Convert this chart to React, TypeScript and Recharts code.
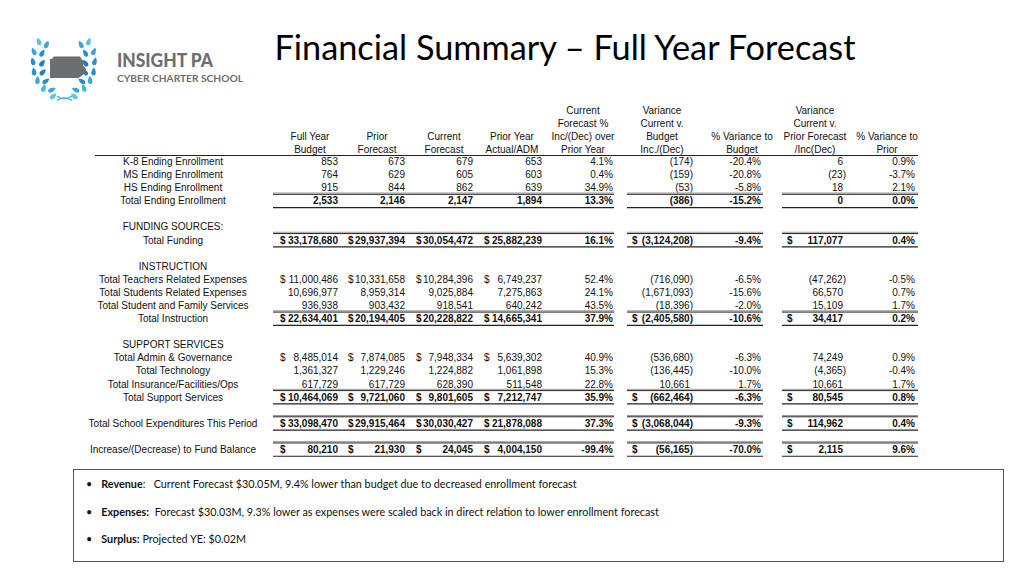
import { Bar, ComposedChart, XAxis, YAxis } from "recharts";

const rowLabels = [
  "K-8 Ending Enrollment",
  "MS Ending Enrollment",
  "HS Ending Enrollment",
  "Total Ending Enrollment",
  "",
  "FUNDING SOURCES:",
  "Total Funding",
  "",
  "INSTRUCTION",
  "Total Teachers Related Expenses",
  "Total Students Related Expenses",
  "Total Student and Family Services",
  "Total Instruction",
  "",
  "SUPPORT SERVICES",
  "Total Admin & Governance",
  "Total Technology",
  "Total Insurance/Facilities/Ops",
  "Total Support Services",
  "",
  "Total School Expenditures This Period",
  "",
  "Increase/(Decrease) to Fund Balance",
];

// n = line item, t = total, h = section heading, b = spacer
const rowKinds = ["n", "n", "n", "t", "b", "h", "t", "b", "h", "n", "n", "n", "t", "b", "h", "n", "n", "n", "t", "b", "t", "b", "t"];
// rows whose dollar columns carry a "$"
const dollarRows = [6, 9, 12, 15, 18, 20, 22];
const dollarVarRows = [6, 12, 18, 20, 22];

const fullYearBudget = [853, 764, 915, 2533, null, null, 33178680, null, null, 11000486, 10696977, 936938, 22634401, null, null, 8485014, 1361327, 617729, 10464069, null, 33098470, null, 80210];
const priorForecast = [673, 629, 844, 2146, null, null, 29937394, null, null, 10331658, 8959314, 903432, 20194405, null, null, 7874085, 1229246, 617729, 9721060, null, 29915464, null, 21930];
const currentForecast = [679, 605, 862, 2147, null, null, 30054472, null, null, 10284396, 9025884, 918541, 20228822, null, null, 7948334, 1224882, 628390, 9801605, null, 30030427, null, 24045];
const priorYearActual = [653, 603, 639, 1894, null, null, 25882239, null, null, 6749237, 7275863, 640242, 14665341, null, null, 5639302, 1061898, 511548, 7212747, null, 21878088, null, 4004150];
const pctOverPriorYear = [4.1, 0.4, 34.9, 13.3, null, null, 16.1, null, null, 52.4, 24.1, 43.5, 37.9, null, null, 40.9, 15.3, 22.8, 35.9, null, 37.3, null, -99.4];
const varVsBudget = [-174, -159, -53, -386, null, null, -3124208, null, null, -716090, -1671093, -18396, -2405580, null, null, -536680, -136445, 10661, -662464, null, -3068044, null, -56165];
const pctVarBudget = [-20.4, -20.8, -5.8, -15.2, null, null, -9.4, null, null, -6.5, -15.6, -2.0, -10.6, null, null, -6.3, -10.0, 1.7, -6.3, null, -9.3, null, -70.0];
const varVsPrior = [6, -23, 18, 0, null, null, 117077, null, null, -47262, 66570, 15109, 34417, null, null, 74249, -4365, 10661, 80545, null, 114962, null, 2115];
const pctVarPrior = [0.9, -3.7, 2.1, 0.0, null, null, 0.4, null, null, -0.5, 0.7, 1.7, 0.2, null, null, 0.9, -0.4, 1.7, 0.8, null, 0.4, null, 9.6];

const columnHeaders = [
  ["", "", "Full Year", "Budget"],
  ["", "", "Prior", "Forecast"],
  ["", "", "Current", "Forecast"],
  ["", "", "Prior Year", "Actual/ADM"],
  ["Current", "Forecast %", "Inc/(Dec) over", "Prior Year"],
  ["Variance", "Current v.", "Budget", "Inc./(Dec)"],
  ["", "", "% Variance to", "Budget"],
  ["Variance", "Current v.", "Prior Forecast", "/Inc(Dec)"],
  ["", "", "% Variance to", "Prior"],
];

const notes = [
  ["Revenue", ":   Current Forecast $30.05M, 9.4% lower than budget due to decreased enrollment forecast"],
  ["Expenses:", "  Forecast $30.03M, 9.3% lower as expenses were scaled back in direct relation to lower enrollment forecast"],
  ["Surplus:", " Projected YE: $0.02M"],
];

const FONT = '"Liberation Sans", Arial, sans-serif';
const INK = "#111";
const LABEL_X = 173;
const headerCenters = [310, 377, 444, 512, 583, 662, 742, 815, 887];
const headerRows = [110, 123, 136, 149];
const segments = [
  [273, 614],
  [627, 763],
  [782, 918],
];

type Col = { values: (number | null)[]; right: number; kind: "amt" | "pct" | "var"; dollarX?: number };
const columns: Col[] = [
  { values: fullYearBudget, right: 338, kind: "amt", dollarX: 280 },
  { values: priorForecast, right: 405, kind: "amt", dollarX: 348 },
  { values: currentForecast, right: 473, kind: "amt", dollarX: 416 },
  { values: priorYearActual, right: 542, kind: "amt", dollarX: 484 },
  { values: pctOverPriorYear, right: 613, kind: "pct" },
  { values: varVsBudget, right: 693, kind: "var", dollarX: 632 },
  { values: pctVarBudget, right: 761, kind: "pct" },
  { values: varVsPrior, right: 846, kind: "var", dollarX: 787 },
  { values: pctVarPrior, right: 915, kind: "pct" },
];

const rows = rowLabels.map((label, i) => ({ key: `r${i}`, label }));

function RowTick(props: any) {
  const { y, payload } = props;
  const i = Number(String(payload.value).slice(1));
  const kind = rowKinds[i];
  if (kind === "b") return <g />;
  const bold = kind === "t";
  const cells: any[] = [];
  columns.forEach((c, ci) => {
    const v = c.values[i];
    if (v === null || v === undefined) return;
    let text = "";
    let right = c.right;
    let dollar = false;
    if (c.kind === "amt") {
      text = v.toLocaleString("en-US");
      dollar = dollarRows.includes(i);
    } else if (c.kind === "pct") {
      text = `${v.toFixed(1)}%`;
    } else {
      text = v < 0 ? `(${Math.abs(v).toLocaleString("en-US")})` : v.toLocaleString("en-US");
      if (v >= 0) right -= 3;
      dollar = dollarVarRows.includes(i);
    }
    cells.push(
      <text key={`c${ci}`} x={right} y={y} dy="0.35em" textAnchor="end" fontWeight={bold ? 700 : 400}>
        {text}
      </text>
    );
    if (dollar && c.dollarX) {
      cells.push(
        <text key={`d${ci}`} x={c.dollarX} y={y} dy="0.35em" textAnchor="start" fontWeight={bold ? 700 : 400}>
          $
        </text>
      );
    }
  });
  return (
    <g fontFamily={FONT} fontSize={10} fill={INK}>
      <text x={LABEL_X} y={y} dy="0.35em" textAnchor="middle">
        {rowLabels[i]}
      </text>
      {cells}
      {bold &&
        segments.map(([a, b], k) => (
          <g key={`l${k}`}>
            <line x1={a} x2={b} y1={y - 7.8} y2={y - 7.8} stroke="#999" strokeWidth={1} />
            <line x1={a} x2={b} y1={y - 6.5} y2={y - 6.5} stroke="#222" strokeWidth={1} />
            <line x1={a} x2={b} y1={y + 6.8} y2={y + 6.8} stroke="#222" strokeWidth={1.2} />
          </g>
        ))}
    </g>
  );
}

// laurel leaves of the logo, left branch: x, y, tilt, colour
const leftLeaves: [number, number, number, string][] = [
  [39, 42, -20, "#5cc0ea"], [46.5, 45, 25, "#3aa6df"],
  [34, 52, -25, "#3aa6df"], [42, 53.5, 30, "#2a8fd0"],
  [33, 62, -15, "#2a8fd0"], [42, 63.5, 35, "#1f7fc4"],
  [34, 72, -5, "#2a8fd0"], [42.5, 72.5, 45, "#1f7fc4"],
  [37.5, 80.5, 5, "#3aa6df"], [45.5, 81.5, 55, "#2a8fd0"],
  [43.5, 88.5, 20, "#45b6e6"], [51.5, 90, 65, "#3aa6df"],
  [53, 96.5, 50, "#5cc8ec"],
];
const LEAF = "M0,-4.6 C3,-1.2 3,3.4 0,3.4 C-3,3.4 -3,-1.2 0,-4.6 Z";

function Logo() {
  return (
    <g>
      {leftLeaves.map(([x, y, r, col], k) => (
        <g key={k}>
          <path d={LEAF} transform={`translate(${x} ${y}) rotate(${r})`} fill={col} />
          <path d={LEAF} transform={`translate(${127.6 - x} ${y}) rotate(${-r})`} fill={col} />
        </g>
      ))}
      <path d="M57,96 Q64,101.5 72,96 M57,100.5 Q64,95 72,100.5" stroke="#3bb0e3" strokeWidth={1.2} fill="none" />
      <path d="M50,59 L52,59 L53.5,56.5 L80,56.5 L82,59.5 L84,62.5 L83,65.5 L86,69 L84.5,73 L81.5,76 L78.5,78 L50,78 Z" fill="#6d6e70" />
      <text x={117} y={67} fontFamily="Lato, sans-serif" fontWeight={900} fontSize={18} fill="#6d6e70" textLength={96} lengthAdjust="spacingAndGlyphs">
        INSIGHT PA
      </text>
      <text x={117} y={81.5} fontFamily="Lato, sans-serif" fontWeight={700} fontSize={9} fill="#6d6e70" textLength={126} lengthAdjust="spacingAndGlyphs">
        CYBER CHARTER SCHOOL
      </text>
    </g>
  );
}

export default function App() {
  return (
    <div style={{ position: "absolute", left: 0, top: 0, width: 1024, height: 576, background: "#fff" }}>
      <ComposedChart width={1024} height={576} layout="vertical" data={rows} margin={{ top: 155, right: 0, bottom: 120, left: 0 }}>
        <XAxis type="number" hide />
        <YAxis type="category" dataKey="key" width={1} interval={0} axisLine={false} tickLine={false} tick={(p: any) => <RowTick {...p} />} />
        <Bar dataKey="pad" isAnimationActive={false} />
      </ComposedChart>
      <svg width={1024} height={576} style={{ position: "absolute", left: 0, top: 0, pointerEvents: "none" }}>
        <Logo />
        <text x={565} y={60} textAnchor="middle" fontFamily="Lato, sans-serif" fontSize={34} fill="#000" textLength={581} lengthAdjust="spacingAndGlyphs">
          Financial Summary – Full Year Forecast
        </text>
        <g fontFamily={FONT} fontSize={10} fill={INK}>
          {columnHeaders.map((lines, ci) =>
            lines.map((t, li) =>
              t ? (
                <text key={`${ci}-${li}`} x={headerCenters[ci]} y={headerRows[li]} dy="0.35em" textAnchor="middle">
                  {t}
                </text>
              ) : null
            )
          )}
        </g>
        <line x1={95} x2={918} y1={155.5} y2={155.5} stroke="#222" strokeWidth={1} />
      </svg>
      <div
        style={{
          position: "absolute",
          left: 73,
          top: 469,
          width: 931,
          height: 93,
          border: "1px solid #555",
          boxSizing: "border-box",
          fontFamily: "Lato, sans-serif",
          fontSize: 10.8,
          color: "#111",
        }}
      >
        {notes.map(([b, t], k) => (
          <div key={k} style={{ position: "absolute", left: 12, top: 7 + k * 27.5, lineHeight: "14px", whiteSpace: "pre" }}>
            <span style={{ marginRight: 9 }}>•</span>
            <b>{b}</b>
            {t}
          </div>
        ))}
      </div>
    </div>
  );
}
